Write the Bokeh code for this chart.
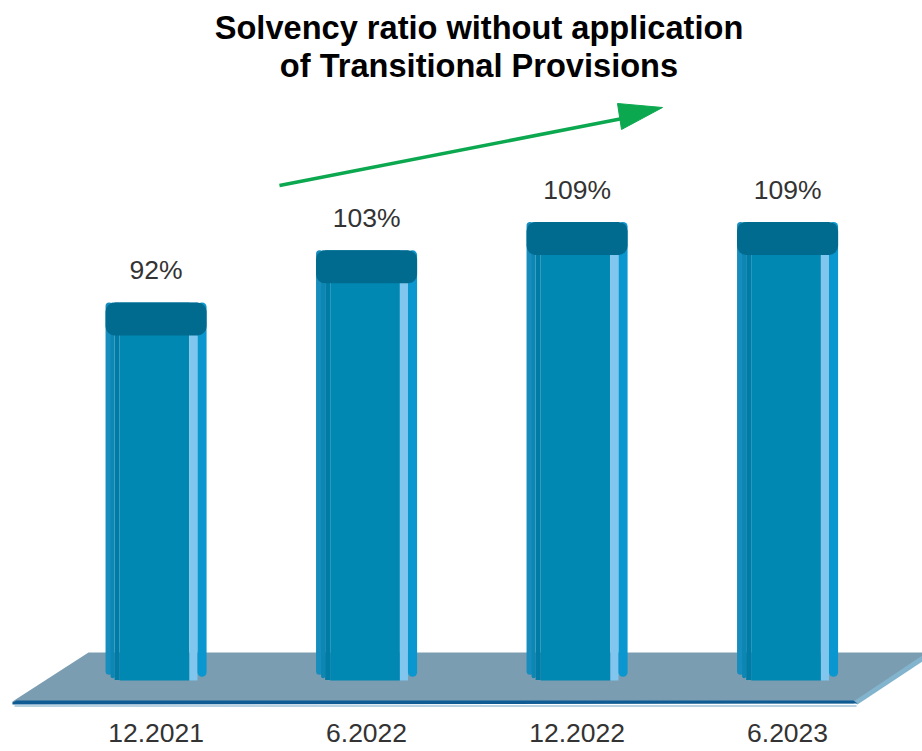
from bokeh.core.properties import value
from bokeh.embed import file_html
from bokeh.models import ColumnDataSource, FixedTicker, Range1d
from bokeh.plotting import figure
from bokeh.resources import INLINE

periods = ["12.2021", "6.2022", "12.2022", "6.2023"]
solvency = [92, 103, 109, 109]
positions = [0, 1, 2, 3]
value_labels = ["92%", "103%", "109%", "109%"]
title_lines = ["Solvency ratio without application", "of Transitional Provisions"]

FONT = "Liberation Sans"
AXIS_FLOOR = 12.25     # value at which the columns stand on the platform
CAP_DEPTH = 6.96       # height of the column's top cap, in value units
HALF = 0.24            # half a column's width, in category units

p = figure(
    width=922, height=751, output_backend="svg", toolbar_location=None,
    x_range=Range1d(-0.739, 3.641), y_range=Range1d(4.87, 155.71),
    y_axis_location=None, min_border=0, min_border_bottom=36,
    outline_line_color=None, background_fill_color="white",
)
p.grid.visible = False

# Page-coordinate ranges for the decoration around the columns
p.extra_x_ranges["page_x"] = Range1d(0, 922)
p.extra_y_ranges["page_y"] = Range1d(715, 0)
page = dict(x_range_name="page_x", y_range_name="page_y")

# Platform
p.patch([12, 88, 922, 922, 853, 12], [701, 652, 652, 658, 703, 703],
        fill_color="#7b9db2", line_color=None, **page)
p.patch([853, 922, 922, 857], [701, 655, 661, 704],
        fill_color="#83b4cd", line_color=None, **page)
p.patch([12, 16, 853, 857, 12], [702, 700, 700, 703, 704],
        fill_color="#0f5c94", line_color=None, **page)
p.line([14, 856], [705.5, 705.5], line_color="#b9d2e2", line_width=2, **page)

# Columns, built up from their faces
src = ColumnDataSource(dict(x=positions, top=solvency, label=value_labels))


def face(start, stop, color, bottom=AXIS_FLOOR, radius=0):
    lefts = [x - HALF + start * 2 * HALF for x in positions]
    rights = [x - HALF + stop * 2 * HALF for x in positions]
    p.quad(left=lefts, right=rights, bottom=[bottom] * 4, top=solvency,
           fill_color=color, line_color=None, border_radius=radius)


face(0.0, 0.07, "#178dbd", bottom=AXIS_FLOOR + 1.2, radius=6)
face(0.05, 0.09, "#0c86b3", bottom=AXIS_FLOOR + 0.5, radius=3)
face(0.09, 0.14, "#007ba5", bottom=AXIS_FLOOR + 0.1)
face(0.14, 0.83, "#0088b2")
face(0.83, 0.91, "#80c6ee")
face(0.91, 1.0, "#0a97cf", bottom=AXIS_FLOOR + 0.8, radius=5)

# Dark cap on top of each column
p.quad(left=[x - HALF for x in positions], right=[x + HALF for x in positions],
       bottom=[v - CAP_DEPTH for v in solvency], top=solvency,
       fill_color="#006b8f", line_color=None, border_radius=9)

# Value labels above the columns
p.text(x="x", y="top", text="label", source=src, text_align="center",
       text_baseline="middle", y_offset=-32, text_color="#333333",
       text_font=value(FONT), text_font_size="26.5px")

# Trend arrow
p.line([279, 622], [185, 118], line_color="#0ca850", line_width=3.5, **page)
p.patch([617, 662, 621], [103, 107, 129], fill_color="#0ca850",
        line_color="#0ca850", line_width=1, **page)

# Heading
p.text(x=[478.5, 478.5], y=[27, 65], text=title_lines, text_align="center",
       text_baseline="middle", text_color="black", text_font=value(FONT),
       text_font_style="bold", text_font_size="32.6px", **page)

# Period labels
axis = p.xaxis[0]
axis.ticker = FixedTicker(ticks=positions)
axis.major_label_overrides = dict(zip(positions, periods))
axis.axis_line_color = None
axis.major_tick_line_color = None
axis.minor_tick_line_color = None
axis.major_label_standoff = 2
axis.major_label_text_font = FONT
axis.major_label_text_font_size = "26.5px"
axis.major_label_text_color = "#333333"

open("out.html", "w").write(file_html(p, INLINE))
